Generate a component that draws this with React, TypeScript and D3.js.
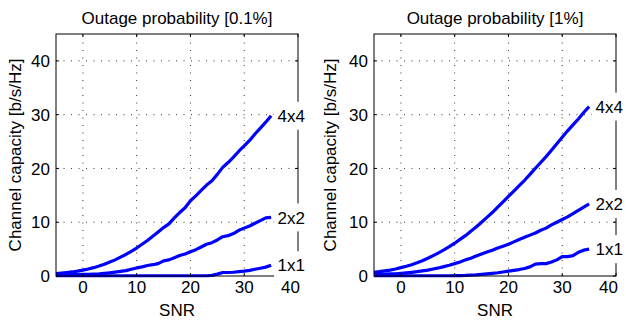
import * as d3 from "d3";

const snr = [
  -5, -4, -3, -2, -1, 0, 1, 2, 3, 4, 5, 6, 7, 8, 9, 10, 11, 12, 13, 14, 15, 16,
  17, 18, 19, 20, 21, 22, 23, 24, 25, 26, 27, 28, 29, 30, 31, 32, 33, 34, 35,
];

// outage probability 0.1%
const left4x4 = [
  0.45, 0.55, 0.65, 0.75, 0.9, 1.1, 1.3, 1.55, 1.85, 2.2, 2.6, 3.0, 3.5, 4.0,
  4.6, 5.2, 5.9, 6.6, 7.4, 8.2, 9.0, 9.7, 10.8, 11.8, 12.7, 14.0, 14.9, 15.9,
  16.9, 17.7, 18.9, 20.2, 21.1, 22.1, 23.2, 24.2, 25.2, 26.4, 27.5, 28.6, 29.8,
];
const left2x2 = [
  0.2, 0.2, 0.22, 0.24, 0.26, 0.3, 0.33, 0.37, 0.42, 0.5, 0.6, 0.72, 0.85, 1.0,
  1.25, 1.5, 1.7, 1.95, 2.1, 2.3, 2.8, 3.0, 3.4, 3.8, 4.1, 4.5, 4.9, 5.4, 5.9,
  6.2, 6.7, 7.3, 7.5, 7.9, 8.5, 8.9, 9.3, 9.8, 10.3, 10.8, 10.9,
];
const left1x1 = [
  0.05, 0.05, 0.05, 0.05, 0.05, 0.05, 0.05, 0.05, 0.05, 0.05, 0.05, 0.05, 0.05,
  0.05, 0.05, 0.05, 0.05, 0.05, 0.05, 0.05, 0.05, 0.05, 0.05, 0.05, 0.05, 0.05,
  0.05, 0.05, 0.05, 0.12, 0.35, 0.65, 0.65, 0.7, 0.8, 0.9, 1.05, 1.25, 1.45,
  1.65, 2.0,
];

// outage probability 1%
const right4x4 = [
  0.7, 0.8, 0.95, 1.1, 1.3, 1.55, 1.8, 2.1, 2.45, 2.85, 3.3, 3.8, 4.3, 4.85,
  5.45, 6.1, 6.8, 7.5, 8.3, 9.1, 10.0, 10.9, 11.8, 12.8, 13.8, 14.8, 15.8, 16.8,
  17.8, 18.9, 20.0, 21.1, 22.2, 23.4, 24.6, 25.8, 27.0, 28.1, 29.2, 30.4, 31.5,
];
const right2x2 = [
  0.3, 0.32, 0.35, 0.38, 0.42, 0.5, 0.58, 0.68, 0.8, 0.95, 1.1, 1.3, 1.5, 1.75,
  2.0, 2.3, 2.6, 3.0, 3.3, 3.7, 4.1, 4.45, 4.8, 5.2, 5.55, 5.9, 6.35, 6.8, 7.2,
  7.6, 8.0, 8.5, 8.9, 9.5, 10.0, 10.5, 11.0, 11.6, 12.2, 12.8, 13.4,
];
const right1x1 = [
  0.05, 0.05, 0.05, 0.05, 0.05, 0.05, 0.05, 0.05, 0.05, 0.05, 0.05, 0.05, 0.05,
  0.05, 0.05, 0.06, 0.08, 0.1, 0.15, 0.2, 0.3, 0.4, 0.5, 0.6, 0.75, 0.9, 1.05,
  1.2, 1.4, 1.7, 2.2, 2.3, 2.3, 2.6, 3.0, 3.6, 3.6, 3.8, 4.4, 4.8, 5.0,
];

const seriesNames = ["4x4", "2x2", "1x1"];
const titles = ["Outage probability [0.1%]", "Outage probability [1%]"];
const xTicks = [0, 10, 20, 30, 40];
const yTicks = [0, 10, 20, 30, 40];

const font = "'Liberation Sans', Arial, Helvetica, sans-serif";
const blue = "#0000ff";

function Panel({
  left,
  title,
  series,
  labelGap,
}: {
  left: number;
  title: string;
  series: number[][];
  labelGap: number;
}) {
  const right = left + 242;
  const top = 34;
  const bottom = 276;
  const x = d3.scaleLinear().domain([-5, 40]).range([left, right]);
  const y = d3.scaleLinear().domain([0, 45]).range([bottom, top]);
  const line = d3
    .line<number>()
    .x((_, i) => x(snr[i]))
    .y((d) => y(d));
  const tl = 3;

  return (
    <g fontFamily={font} fontSize={17} fill="#000">
      {/* grid */}
      <g stroke="#333" strokeWidth={1} strokeDasharray="1 6.5">
        {xTicks
          .filter((t) => t > -5 && t < 40)
          .map((t) => (
            <line key={"gx" + t} x1={x(t)} x2={x(t)} y1={bottom} y2={top} />
          ))}
        {yTicks
          .filter((t) => t > 0)
          .map((t) => (
            <line key={"gy" + t} x1={left} x2={right} y1={y(t)} y2={y(t)} />
          ))}
      </g>

      {series.map((s, i) => (
        <path
          key={i}
          d={line(s) || undefined}
          fill="none"
          stroke={blue}
          strokeWidth={3.2}
          strokeLinejoin="round"
        />
      ))}

      {/* box + ticks */}
      <rect
        x={left}
        y={top}
        width={right - left}
        height={bottom - top}
        fill="none"
        stroke="#000"
        strokeWidth={1}
      />
      <g stroke="#000" strokeWidth={1}>
        {xTicks.map((t) => (
          <g key={"tx" + t}>
            <line x1={x(t)} x2={x(t)} y1={bottom} y2={bottom - tl} />
            <line x1={x(t)} x2={x(t)} y1={top} y2={top + tl} />
          </g>
        ))}
        {yTicks.map((t) => (
          <g key={"ty" + t}>
            <line x1={left} x2={left + tl} y1={y(t)} y2={y(t)} />
            <line x1={right} x2={right - tl} y1={y(t)} y2={y(t)} />
          </g>
        ))}
      </g>

      {/* tick labels */}
      {xTicks.map((t, i) => (
        <text
          key={"lx" + t}
          x={i === xTicks.length - 1 ? x(t) + 2 : x(t)}
          y={bottom + 17}
          textAnchor={i === xTicks.length - 1 ? "end" : "middle"}
        >
          {t}
        </text>
      ))}
      {yTicks.map((t) => (
        <text
          key={"ly" + t}
          x={left - 6}
          y={y(t)}
          dy="0.36em"
          textAnchor="end"
        >
          {t}
        </text>
      ))}

      {/* series labels */}
      {series.map((s, i) => {
        const ex = x(snr[snr.length - 1]);
        const ey = y(s[s.length - 1]);
        return (
          <g key={"sl" + i}>
            <rect x={ex + 3} y={ey - 14} width={36} height={28} fill="#fff" />
            <text x={ex + 6.5} y={ey} dy="0.36em">
              {seriesNames[i]}
            </text>
          </g>
        );
      })}

      <text x={(left + right) / 2} y={24} textAnchor="middle">
        {title}
      </text>
      <text x={(left + right) / 2} y={316} textAnchor="middle">
        SNR
      </text>
      <text
        transform={`translate(${left - labelGap},${(top + bottom) / 2}) rotate(-90)`}
        textAnchor="middle"
      >
        Channel capacity [b/s/Hz]
      </text>
    </g>
  );
}

export default function App() {
  return (
    <svg
      width={626}
      height={322}
      style={{ position: "absolute", left: 0, top: 0, background: "#fff" }}
    >
      <Panel
        left={56}
        title={titles[0]}
        series={[left4x4, left2x2, left1x1]}
        labelGap={35}
      />
      <Panel
        left={374}
        title={titles[1]}
        series={[right4x4, right2x2, right1x1]}
        labelGap={38}
      />
    </svg>
  );
}
